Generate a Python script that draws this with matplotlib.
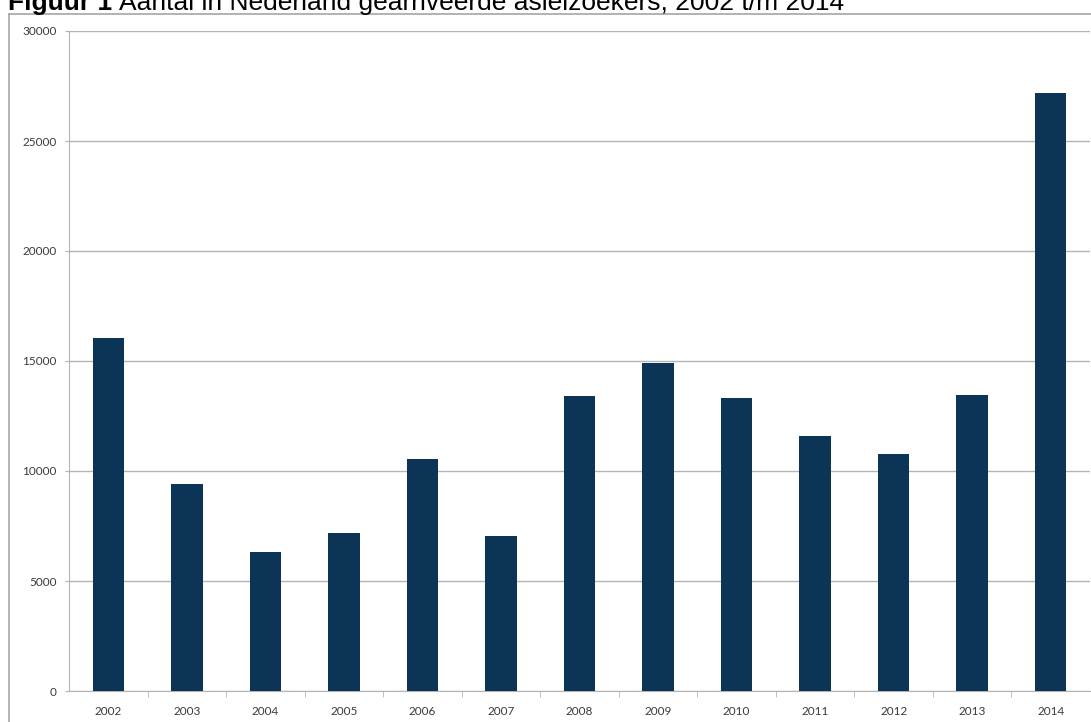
import matplotlib
matplotlib.use('Agg')
import matplotlib.pyplot as plt
from matplotlib.lines import Line2D

years = ['2002', '2003', '2004', '2005', '2006', '2007', '2008',
         '2009', '2010', '2011', '2012', '2013', '2014']
asielzoekers = [16030, 9400, 6300, 7200, 10530, 7060, 13390,
                14900, 13330, 11580, 10790, 13450, 27200]
y_ticks = [0, 5000, 10000, 15000, 20000, 25000, 30000]

title_bold = 'Figuur 1'
title_rest = 'Aantal in Nederland gearriveerde asielzoekers, 2002 t/m 2014'

W, H = 1091, 722
fig = plt.figure(figsize=(W / 100, H / 100), dpi=100)
fig.patch.set_facecolor('white')

# outer frame of the pasted chart
frame_col = '#a6a6a6'
fig.add_artist(Line2D([9 / W, 9 / W], [0, 1 - 14 / H], transform=fig.transFigure,
                      color=frame_col, lw=1.2))
fig.add_artist(Line2D([9 / W, 1], [1 - 14 / H, 1 - 14 / H], transform=fig.transFigure,
                      color=frame_col, lw=1.2))

# title, partly cut off at the top like the source
t1 = fig.text(8 / W, 1 - 10 / H, title_bold, fontsize=19, fontweight='bold',
              family='Liberation Sans', va='baseline', ha='left')
renderer = fig.canvas.get_renderer()
bb = t1.get_window_extent(renderer)
fig.text((bb.x1 + 7) / W, 1 - 10 / H, title_rest, fontsize=19,
         family='Liberation Sans', va='baseline', ha='left')

ax = fig.add_axes([69 / W, 1 - 691 / H, 1021 / W, 660 / H])
x = range(len(years))
ax.bar(x, asielzoekers, width=0.4, color='#0b3456', zorder=3)

ax.set_xlim(-0.5, len(years) - 0.5)
ax.set_ylim(0, 30000)
ax.set_yticks(y_ticks)
ax.set_yticklabels([str(v) for v in y_ticks])
ax.set_xticks(list(x))
ax.set_xticklabels(years)
ax.set_xticks([i + 0.5 for i in range(len(years) - 1)], minor=True)

grid_col = '#b4b4b4'
ax.yaxis.grid(True, color=grid_col, lw=1, zorder=0)
for s in ['top', 'right']:
    ax.spines[s].set_visible(False)
ax.spines['left'].set_color(grid_col)
ax.spines['bottom'].set_color(grid_col)

ax.tick_params(axis='y', length=3, color=grid_col, labelsize=8.5, labelcolor='#3a3a3a', pad=6)
ax.tick_params(axis='x', which='major', length=0, labelsize=8.5, labelcolor='#3a3a3a', pad=11)
ax.tick_params(axis='x', which='minor', length=4, color=grid_col)
for lab in ax.get_xticklabels() + ax.get_yticklabels():
    lab.set_family('Lato')

fig.savefig('out.png', dpi=100)
